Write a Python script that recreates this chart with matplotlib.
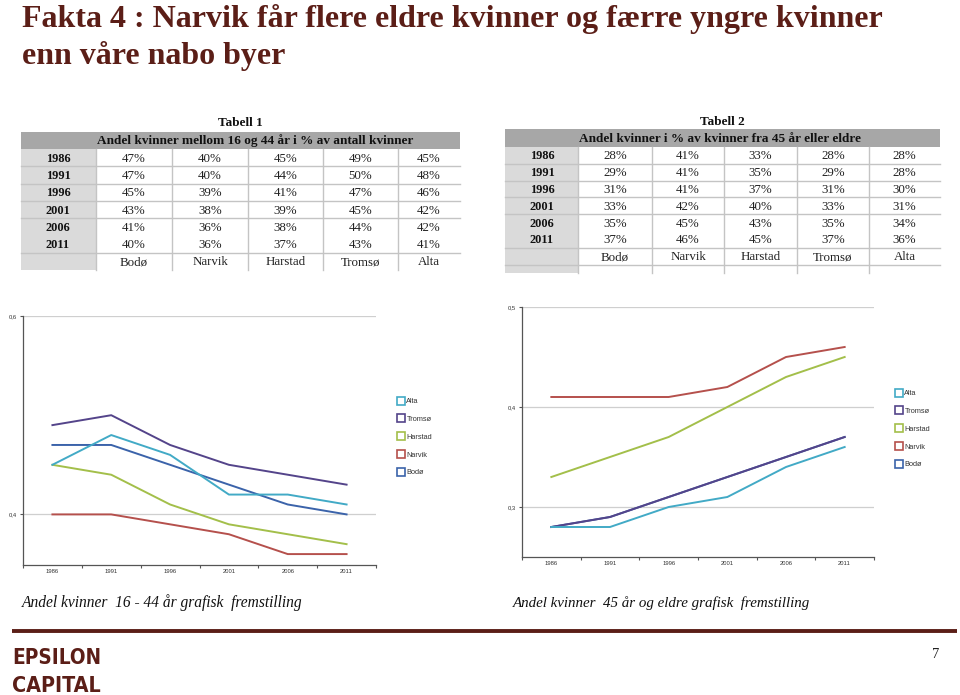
import matplotlib
matplotlib.use("Agg")
import matplotlib.pyplot as plt
from matplotlib.patches import Rectangle
from matplotlib.lines import Line2D
from matplotlib.ticker import FuncFormatter, FixedLocator

# data
years = ['1986', '1991', '1996', '2001', '2006', '2011']
cities = ['Bodø', 'Narvik', 'Harstad', 'Tromsø', 'Alta']

# andel kvinner 16-44 aar, %
young_bodo = [47, 47, 45, 43, 41, 40]
young_narvik = [40, 40, 39, 38, 36, 36]
young_harstad = [45, 44, 41, 39, 38, 37]
young_tromso = [49, 50, 47, 45, 44, 43]
young_alta = [45, 48, 46, 42, 42, 41]

# andel kvinner 45 aar og eldre, %
old_bodo = [28, 29, 31, 33, 35, 37]
old_narvik = [41, 41, 41, 42, 45, 46]
old_harstad = [33, 35, 37, 40, 43, 45]
old_tromso = [28, 29, 31, 33, 35, 37]
old_alta = [28, 28, 30, 31, 34, 36]

young = [young_bodo, young_narvik, young_harstad, young_tromso, young_alta]
old = [old_bodo, old_narvik, old_harstad, old_tromso, old_alta]

colors = ['#3b63aa', '#b5504c', '#a3bf4a', '#54448a', '#42aac6']
legend_order = [4, 3, 2, 1, 0]   # Alta, Tromsø, Harstad, Narvik, Bodø

W, H = 960, 695
dark_red = '#5b1e17'
serif = ['Liberation Serif', 'DejaVu Serif']
sans = ['Liberation Sans', 'DejaVu Sans']

fig = plt.figure(figsize=(W / 100, H / 100), dpi=100)
bg = fig.add_axes([0, 0, 1, 1])
bg.set_xlim(0, W)
bg.set_ylim(H, 0)
bg.axis('off')

# title
bg.text(22, 27, 'Fakta 4 : Narvik får flere eldre kvinner og færre yngre kvinner',
        fontsize=23, fontweight='bold', color=dark_red, family=serif, va='baseline')
bg.text(22, 64, 'enn våre nabo byer',
        fontsize=23, fontweight='bold', color=dark_red, family=serif, va='baseline')


def draw_table(title, header, data, x_edges, y_title, head_top, head_bot, row_h,
               year_x, extra=0):
    left, right = x_edges[0], x_edges[-1]
    lc = x_edges[1]
    n_rows = len(years) + 1
    bottom = head_bot + n_rows * row_h
    bg.text((left + right) / 2, y_title, title, ha='center', va='center',
            fontsize=9.5, fontweight='bold', family=serif, color='#111111')
    bg.add_patch(Rectangle((left, head_top), right - left, head_bot - head_top,
                           facecolor='#a7a7a7', edgecolor='none'))
    bg.text(lc + 1, (head_top + head_bot) / 2 + 0.5, header, ha='left', va='center',
            fontsize=9.5, fontweight='bold', family=serif, color='#111111')
    bg.add_patch(Rectangle((left, head_bot), lc - left, bottom + extra - head_bot,
                           facecolor='#dadada', edgecolor='none'))
    # grid lines
    for i in range(1, n_rows + (1 if extra else 0)):
        if i == 5:
            continue
        y = head_bot + i * row_h
        bg.plot([left, right], [y, y], color='#c4c4c4', lw=1.0)
    for x in x_edges[1:-1]:
        bg.plot([x, x], [head_bot, bottom + extra], color='#c4c4c4', lw=1.0)
    # contents
    for r, yr in enumerate(years):
        yc = head_bot + (r + 0.5) * row_h + 1
        bg.text(year_x, yc, yr, ha='center', va='center', fontsize=8.8,
                fontweight='bold', family=serif, color='#111111')
        for c in range(len(cities)):
            xc = (x_edges[c + 1] + x_edges[c + 2]) / 2
            bg.text(xc, yc, f'{data[c][r]}%', ha='center', va='center',
                    fontsize=9.3, family=serif, color='#222222')
    yc = head_bot + (n_rows - 0.5) * row_h + 1
    for c, name in enumerate(cities):
        xc = (x_edges[c + 1] + x_edges[c + 2]) / 2
        bg.text(xc, yc, name, ha='center', va='center', fontsize=9.3,
                family=serif, color='#222222')


draw_table('Tabell 1', 'Andel kvinner mellom 16 og 44 år i % av antall kvinner', young,
           [21, 96, 172, 248, 323, 398, 460], 123, 132, 149, 17.3, 58)
draw_table('Tabell 2', 'Andel kvinner i % av kvinner fra 45 år eller eldre', old,
           [505, 578, 652, 724, 797, 869, 940], 122, 129, 147, 16.8, 542, extra=8)


def line_chart(rect, data, ylim, yticks, legend_xy):
    x0, x1, ytop, ybot = rect
    ax = fig.add_axes([x0 / W, 1 - ybot / H, (x1 - x0) / W, (ybot - ytop) / H])
    xs = range(len(years))
    for c in range(len(cities)):
        ax.plot(xs, [v / 100 for v in data[c]], color=colors[c], lw=1.4,
                label=cities[c])
    ax.set_xlim(-0.5, len(years) - 0.5)
    ax.set_ylim(*ylim)
    ax.set_xticks(list(xs))
    ax.set_xticklabels(years)
    ax.xaxis.set_minor_locator(FixedLocator([i - 0.5 for i in range(len(years) + 1)]))
    ax.tick_params(axis='x', which='major', length=0, labelsize=4.2,
                   labelcolor='#333333', pad=3)
    ax.tick_params(axis='x', which='minor', length=2.5, color='#555555', width=0.8)
    ax.set_yticks(yticks)
    ax.yaxis.set_major_formatter(FuncFormatter(lambda v, p: f'{v:.1f}'.replace('.', ',')))
    ax.tick_params(axis='y', length=2.5, color='#555555', width=0.8, labelsize=4.2,
                   labelcolor='#333333', pad=2)
    for lab in ax.get_xticklabels() + ax.get_yticklabels():
        lab.set_family(sans)
    ax.grid(axis='y', color='#cfcfcf', lw=0.9)
    ax.set_axisbelow(True)
    for s in ['top', 'right']:
        ax.spines[s].set_visible(False)
    for s in ['left', 'bottom']:
        ax.spines[s].set_color('#555555')
        ax.spines[s].set_linewidth(0.9)
    handles = [Line2D([], [], ls='none', marker='s', markersize=5.5,
                      markerfacecolor='white', markeredgecolor=colors[i],
                      markeredgewidth=1.2, label=cities[i]) for i in legend_order]
    leg = ax.legend(handles=handles, loc='upper left',
                    bbox_to_anchor=(legend_xy[0] / W, 1 - legend_xy[1] / H),
                    bbox_transform=fig.transFigure, frameon=False,
                    prop={'family': sans, 'size': 5.3}, labelspacing=1.45,
                    handlelength=0.8, handletextpad=0.35, borderpad=0, borderaxespad=0)
    for t in leg.get_texts():
        t.set_color('#333333')
    return ax


line_chart((23, 376, 316, 565), young, (0.349, 0.6), [0.4, 0.6], (398, 398))
line_chart((522, 874, 307, 557), old, (0.25, 0.5), [0.3, 0.4, 0.5], (896, 390))

# captions
bg.text(22, 607, 'Andel kvinner  16 - 44 år grafisk  fremstilling', fontsize=11.2,
        style='italic', family=serif, color='#111111', va='baseline')
bg.text(513, 607, 'Andel kvinner  45 år og eldre grafisk  fremstilling', fontsize=10.8,
        style='italic', family=serif, color='#111111', va='baseline')

# footer
bg.plot([12, 957], [630.5, 630.5], color=dark_red, lw=2.8, solid_capstyle='butt')
logo_font = ['DejaVu Sans']
logo = []
for word, base in [('EPSILON', 664), ('CAPITAL', 692)]:
    logo.append(bg.text(12, base, word, fontsize=20, fontweight='bold',
                        family=logo_font, fontstretch='condensed',
                        color=dark_red, va='baseline'))
# shrink the logo words so they fit the 89 px wide logo block
fig.canvas.draw()
for t in logo:
    wpx = t.get_window_extent().width
    t.set_fontsize(20 * 89 / wpx)
bg.text(939, 658, '7', fontsize=10.5, family=serif, color='#222222', va='baseline',
        ha='right')

fig.savefig('out.png', dpi=100)
